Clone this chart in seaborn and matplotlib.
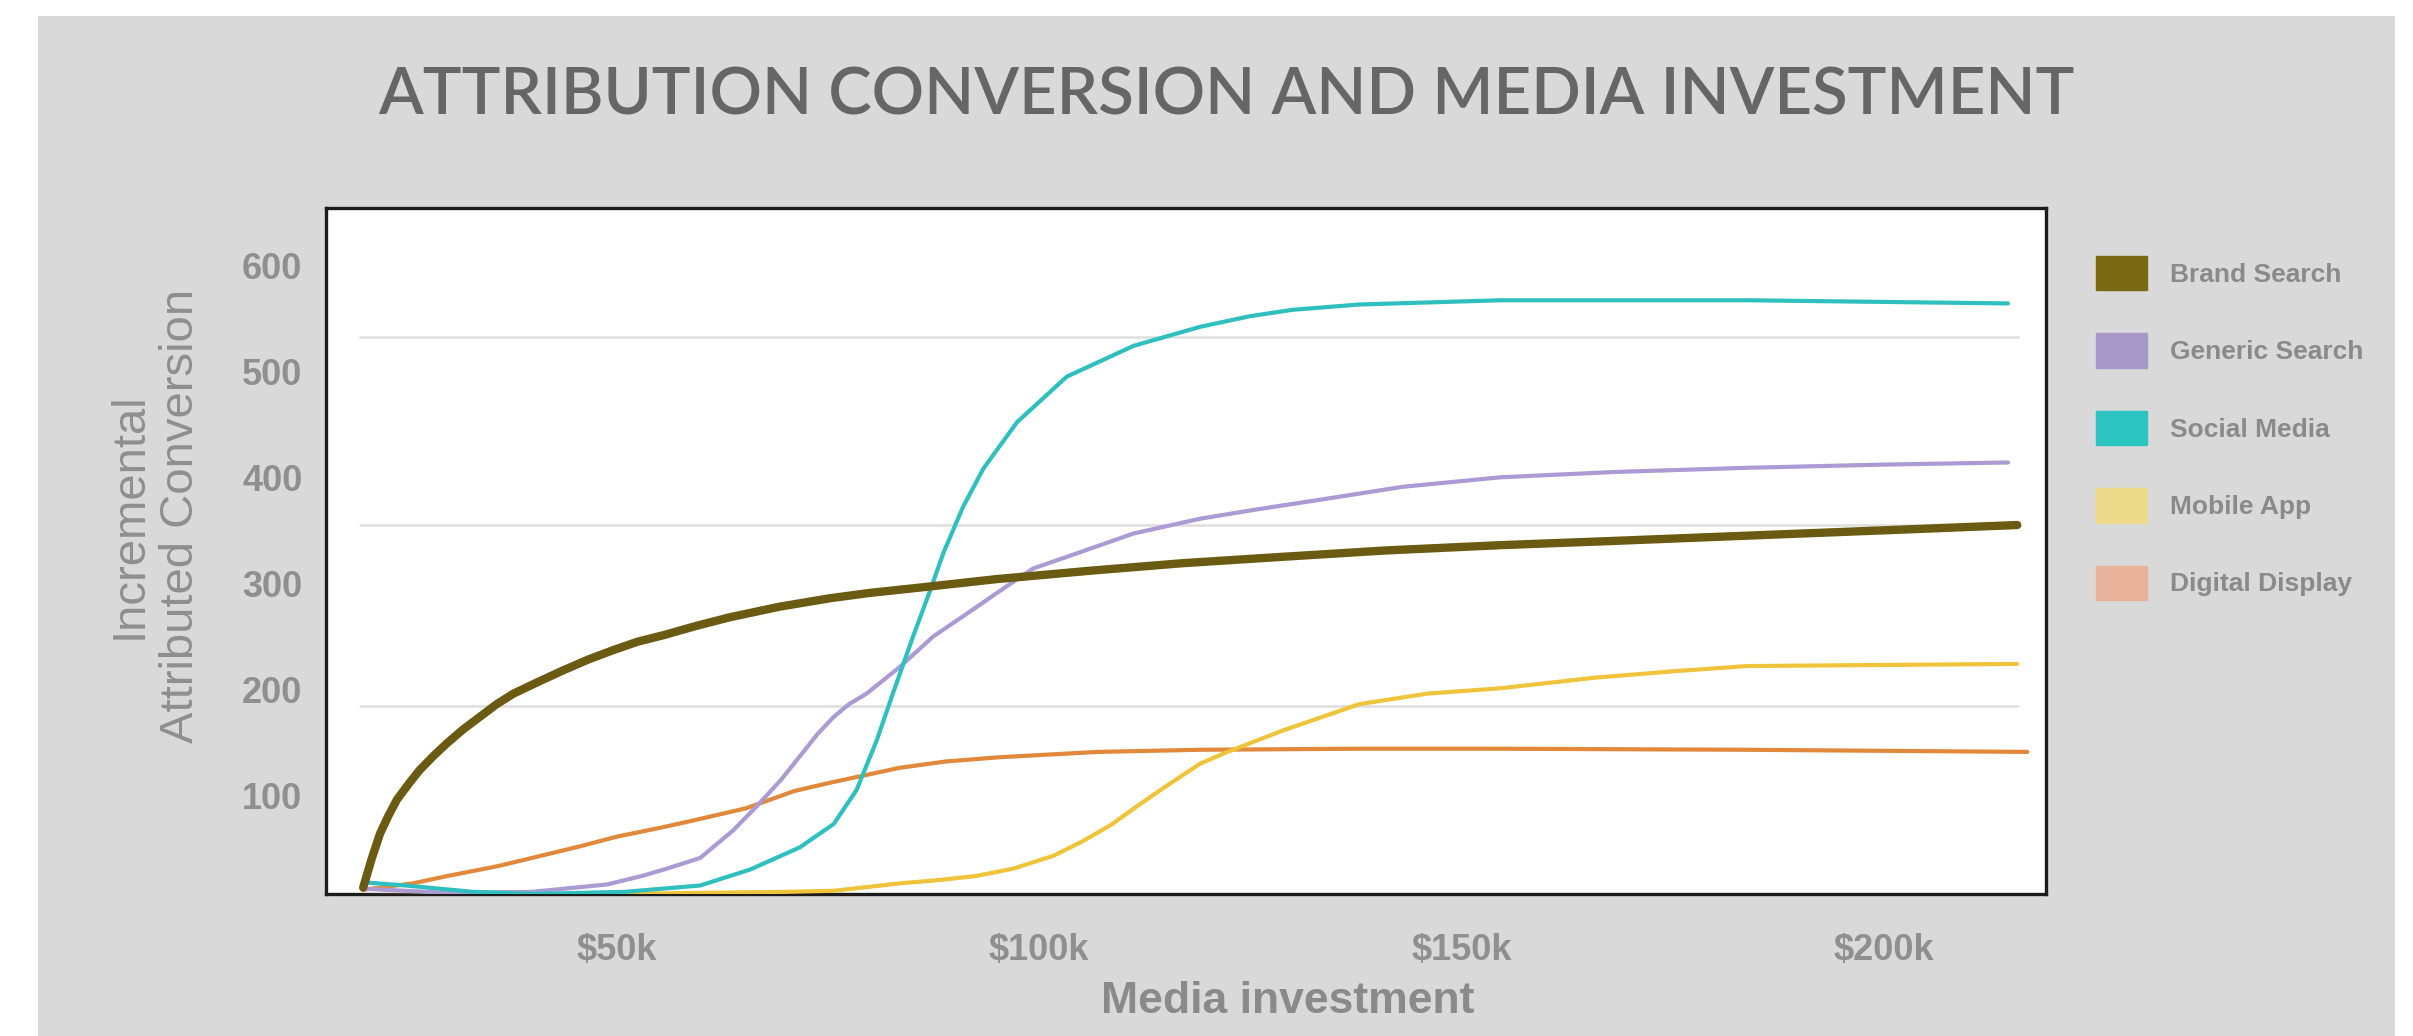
import matplotlib.pyplot as plt
import matplotlib.patches as mpatches
import pandas as pd
import seaborn as sns

TITLE = "ATTRIBUTION CONVERSION AND MEDIA INVESTMENT"
CHANNELS = ["Brand Search", "Generic Search", "Social Media", "Mobile App", "Digital Display"]
LINE_COLORS = ["#6b5b12", "#ab9ad3", "#2fbfbf", "#efc43a", "#e2883a"]
PATCH_COLORS = ["#7a6812", "#a898c9", "#2bc4c0", "#ecd98a", "#e9b39b"]

# investment in $k, incremental attributed conversions
brand_x = [20, 21, 22, 23, 24, 25.5, 26.7, 28.3, 29.9, 31.8, 33.8, 35.8, 37.8, 40.7, 43.7,
           46.6, 49.6, 52.5, 55.5, 59.5, 63.4, 69.3, 75.3, 80, 85.9, 95, 106.2, 117, 128.8,
           141, 154.6, 168, 183.9, 200, 215.8]
brand_y = [13, 40, 64, 81, 96, 112, 124, 137, 149, 162, 174, 186, 196, 207, 218,
           228, 237, 245, 251, 260, 268, 278, 286, 291, 296, 304, 312, 319, 325,
           331, 336, 340, 345, 350, 355]

generic_x = [20, 30, 40, 48.9, 53, 56, 59.9, 63.8, 66.5, 69.5, 71.7, 73.8, 75.7, 77.5, 79.6,
             83.5, 87.5, 91.4, 95.4, 99.3, 103.3, 111.2, 119.1, 126, 133.4, 143, 154.6, 168,
             183.9, 200, 214.7]
generic_y = [12, 8, 9, 16, 24, 31, 41, 67, 89, 115, 137, 158, 174, 186, 196,
             221, 250, 271, 293, 314, 325, 347, 361, 370, 379, 391, 400, 405,
             409, 412, 414]

social_x = [20, 25, 33, 40, 51, 59.9, 65.8, 71.7, 75.7, 78.4, 80.8, 82.7, 85.1, 87.1, 88.7,
            91, 93.4, 97.4, 103.3, 111.2, 119.1, 125, 130, 137.9, 154.6, 183.9, 214.7]
social_y = [18, 15, 9, 7, 9, 15, 30, 51, 73, 105, 152, 196, 250, 293, 329,
            372, 408, 452, 495, 524, 542, 552, 558, 563, 567, 567, 564]

mobile_x = [20, 40, 60, 70, 75.7, 83.5, 88, 92.6, 97, 101.7, 105, 108.5, 112, 115.3, 119.1,
            122, 128.8, 137.9, 146, 154.6, 165.8, 175, 183.9, 200, 215.8]
mobile_y = [5, 6, 8, 9, 10, 17, 20, 24, 31, 43, 56, 72, 92, 110, 130,
            140, 161, 186, 196, 201, 211, 217, 222, 223, 224]

display_x = [20, 25.9, 30, 35.8, 40, 45.7, 50, 55.5, 60, 65.4, 71, 75.3, 80, 83.5, 89,
             95.4, 107, 119, 137.9, 154.6, 183.9, 217]
display_y = [11, 17, 24, 33, 41, 52, 61, 70, 78, 88, 104, 112, 120, 126, 132,
             136, 141, 143, 144, 144, 143, 141]

X_TICKS = [50, 100, 150, 200]
X_TICK_LABELS = [r"\$50k", r"\$100k", r"\$150k", r"\$200k"]
Y_TICKS = [100, 200, 300, 400, 500, 600]
GRID_Y = [532, 355, 184]

series = {
    "Brand Search": (brand_x, brand_y),
    "Generic Search": (generic_x, generic_y),
    "Social Media": (social_x, social_y),
    "Mobile App": (mobile_x, mobile_y),
    "Digital Display": (display_x, display_y),
}
df = pd.concat(
    [pd.DataFrame({"investment": x, "conversion": y, "channel": name})
     for name, (x, y) in series.items()],
    ignore_index=True,
)

sns.set_theme(style="white")
plt.rcParams["font.family"] = ["Liberation Sans", "DejaVu Sans"]

fig = plt.figure(figsize=(24.13, 10.36), dpi=100, facecolor="white")
fig.patches.append(mpatches.Rectangle((0.0157, 0), 0.9768, 0.9846, transform=fig.transFigure,
                                      facecolor="#d9d9d9", edgecolor="none", zorder=-10))
ax = fig.add_axes([0.1351, 0.1371, 0.7128, 0.6621])
ax.set_facecolor("white")

ax.hlines(GRID_Y, 19.5, 216, colors="#dedede", linewidth=1.8, zorder=1)

widths = {"Brand Search": 6.0}
draw_order = ["Digital Display", "Mobile App", "Generic Search", "Social Media", "Brand Search"]
for name in draw_order:
    color = LINE_COLORS[CHANNELS.index(name)]
    sns.lineplot(data=df[df["channel"] == name], x="investment", y="conversion",
                 color=color, linewidth=widths.get(name, 3.0), estimator=None,
                 sort=False, legend=False, ax=ax, zorder=3)

ax.set_xlim(15.6, 219.2)
ax.set_ylim(7, 654)
ax.set_xticks(X_TICKS)
ax.set_xticklabels(X_TICK_LABELS)
ax.set_yticks(Y_TICKS)
ax.set_xlabel("")
ax.set_ylabel("")
ax.tick_params(axis="both", length=0, labelsize=26, labelcolor="#8f8f8f")
ax.tick_params(axis="x", pad=28)
ax.tick_params(axis="y", pad=17)
for lbl in ax.get_xticklabels() + ax.get_yticklabels():
    lbl.set_fontweight("bold")
for sp in ax.spines.values():
    sp.set_visible(True)
    sp.set_color("#1c1c1c")
    sp.set_linewidth(2.4)

fig.text(0.508, 0.907, TITLE, ha="center", va="center", fontsize=47, color="#666666",
         family=["Lato", "DejaVu Sans"], weight="semibold")
fig.text(0.0644, 0.502, "Incremental\nAttributed Conversion", rotation=90, ha="center",
         va="center", multialignment="center", fontsize=34, color="#8f8f8f")
fig.text(0.5338, 0.033, "Media investment", ha="center", va="center", fontsize=32,
         weight="bold", color="#8a8a8a")

handles = [mpatches.Patch(facecolor=c, edgecolor=c) for c in PATCH_COLORS]
fig.legend(handles, CHANNELS, loc="upper left", bbox_to_anchor=(0.8686, 0.753),
           frameon=False, prop={"size": 19, "weight": "bold"}, labelcolor="#8a8a8a",
           handlelength=1.93, handleheight=1.63, labelspacing=1.63, handletextpad=0.87,
           borderpad=0, borderaxespad=0)

fig.savefig("out.png", dpi=100, facecolor=fig.get_facecolor())
